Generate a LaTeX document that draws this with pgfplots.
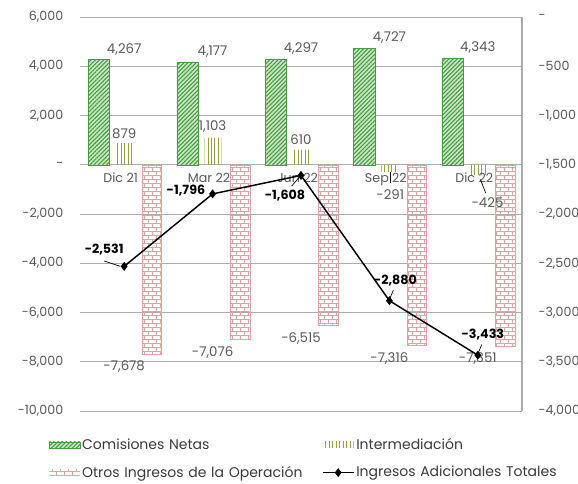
\documentclass[border=0pt]{standalone}
\usepackage{pgfplots}
\pgfplotsset{compat=1.18}
\usepackage{fontspec}
\setmainfont{Poppins}
\usetikzlibrary{patterns,patterns.meta}

\definecolor{txtgray}{HTML}{595959}
\definecolor{legtxt}{HTML}{3A3A3A}
\definecolor{gridgray}{HTML}{ABABAB}
\definecolor{comgreen}{HTML}{459C41}
\definecolor{comlight}{HTML}{C9E7C2}
\definecolor{intolive}{HTML}{8FA33A}
\definecolor{otrred}{HTML}{E6A0A0}

% small brick wall used for "Otros Ingresos de la Operacion"
\pgfdeclarepatternformonly{smallbricks}{\pgfqpoint{-0.5pt}{-0.5pt}}{\pgfqpoint{6.5pt}{6.5pt}}{\pgfqpoint{6pt}{6pt}}{%
  \pgfsetlinewidth{0.5pt}%
  \pgfpathmoveto{\pgfqpoint{0pt}{0pt}}\pgfpathlineto{\pgfqpoint{6pt}{0pt}}%
  \pgfpathmoveto{\pgfqpoint{0pt}{3pt}}\pgfpathlineto{\pgfqpoint{6pt}{3pt}}%
  \pgfpathmoveto{\pgfqpoint{0pt}{0pt}}\pgfpathlineto{\pgfqpoint{0pt}{3pt}}%
  \pgfpathmoveto{\pgfqpoint{3pt}{3pt}}\pgfpathlineto{\pgfqpoint{3pt}{6pt}}%
  \pgfusepathqstroke}

% quarterly figures (millones de pesos)
\pgfplotstableread{
x  com   inter  otros
0  4267  879    -7678
1  4177  1103   -7076
2  4297  610    -6515
3  4727  -291   -7316
4  4343  -425   -7351
}\bars
\pgfplotstableread{
x  total
0  -2531
1  -1796
2  -1608
3  -2880
4  -3433
}\totales

\begin{document}
\begin{tikzpicture}[font=\fontsize{9.5}{11.4}\selectfont]
\pgfplotsset{
  common/.style={
    scale only axis, width=331.5pt, height=295.5pt,
    at={(0,0)}, anchor=south west,
    xmin=-0.5, xmax=4.5,
    scaled ticks=false,
    /pgf/number format/assume math mode=true,
    /pgf/number format/1000 sep={,},
    tick label style={text=txtgray, font=\fontsize{9.5}{11.4}\selectfont},
    major tick length=0pt,
  },
  legimg/.style={legend image code/.code={%
    \path[##1, draw=none] (0pt,-2.2pt) rectangle (23pt,2.2pt);}},
  lineimg/.style={legend image code/.code={%
    \draw[##1] (0pt,0pt) -- (23pt,0pt);
    \draw[##1] plot coordinates {(11.5pt,0pt)};}},
}
\begin{axis}[common,
  ymin=-10000, ymax=6000,
  ytick={-10000,-8000,...,6000},
  yticklabels={{-10,000},{-8,000},{-6,000},{-4,000},{-2,000},{-},{2,000},{4,000},{6,000}},
  axis x line=none,
  axis y line*=left,
  y axis line style={draw=none},
  ymajorgrids, grid style={gridgray, line width=0.7pt},
  yticklabel style={xshift=-9pt},
  nodes near coords,
  every node near coord/.append style={text=txtgray, font=\fontsize{10}{12}\selectfont},
  legend columns=2,
  legend cell align=left,
  legend style={draw=none, fill=none,
    at={(-0.0796,-0.057)}, anchor=north west,
    font=\fontsize{10.5}{12.6}\selectfont, text=legtxt,
    nodes={text width=178.5pt, inner sep=1.5pt},
    row sep=8pt,
    /tikz/every even column/.append style={column sep=0pt}},
]
\addplot[ybar, bar width=0.24, bar shift=-0.285, draw=comgreen, line width=0.3pt,
  fill=comlight,
  postaction={pattern={Lines[angle=45,distance=2.2pt,line width=0.8pt]}, pattern color=comgreen},
  legimg]
  table[x=x, y=com] {\bars};
\addlegendentry{Comisiones Netas}
\addplot[ybar, bar width=0.19, bar shift=0.005, draw=none,
  pattern={Lines[angle=90,distance=2.6pt,line width=0.7pt]}, pattern color=intolive,
  nodes near coords={\pgfmathfloatifflags{\pgfplotspointmeta}{-}{}{\pgfmathprintnumber{\pgfplotspointmeta}}},
  legimg]
  table[x=x, y=inter] {\bars};
\addlegendentry{Intermediación}
\addplot[ybar, bar width=0.22, bar shift=0.31, draw=otrred, line width=0.3pt,
  pattern=smallbricks, pattern color=otrred,
  every node near coord/.append style={yshift=-2pt},
  legimg]
  table[x=x, y=otros] {\bars};
\addlegendentry{Otros Ingresos de la Operación}
\addlegendimage{black, line width=1.1pt, mark=diamond*, mark size=2.5pt, lineimg}
\addlegendentry{Ingresos Adicionales Totales}

% category names sit just under the zero line
\begin{scope}[every node/.style={anchor=north, text=txtgray, inner sep=2pt, yshift=-4pt}]
\node at (axis cs:-0.04,0) {Dic 21};
\node at (axis cs:0.96,0) {Mar 22};
\node at (axis cs:1.96,0) {Jun 22};
\node at (axis cs:2.96,0) {Sep 22};
\node at (axis cs:3.96,0) {Dic 22};
\end{scope}

% negative Intermediacion labels with leader lines
\draw[black, line width=0.5pt] (axis cs:3.01,-300) -- (axis cs:3.01,-760);
\node[text=txtgray, font=\fontsize{10}{12}\selectfont] at (axis cs:3.01,-1230) {-291};
\draw[black, line width=0.5pt] (axis cs:4.03,-600) -- (axis cs:4.09,-1150);
\node[text=txtgray, font=\fontsize{10}{12}\selectfont] at (axis cs:4.11,-1530) {-425};
\end{axis}

\begin{axis}[common,
  ymin=-4000, ymax=0,
  ytick={-4000,-3500,...,0},
  yticklabels={{-4,000},{-3,500},{-3,000},{-2,500},{-2,000},{-1,500},{-1,000},{-500},{-}},
  axis x line=none,
  axis y line*=right,
  y axis line style={draw=gridgray, line width=0.9pt},
  yticklabel style={anchor=west, xshift=9pt},
]
\addplot[black, line width=1.1pt, mark=diamond*, mark size=2.5pt]
  table[x=x, y=total] {\totales};

\begin{scope}[every node/.style={font=\bfseries\fontsize{9.5}{11.4}\selectfont, text=black}]
\node at ([xshift=-15pt, yshift=12.5pt]axis cs:0,-2531) {-2,531};
\draw[black, line width=0.5pt] ([xshift=-15pt, yshift=4pt]axis cs:0,-2531) -- ([xshift=-3pt]axis cs:0,-2531);
\node at ([xshift=-20pt, yshift=2.5pt]axis cs:1,-1796) {-1,796};
\node at ([xshift=-12pt, yshift=-15.5pt]axis cs:2,-1608) {-1,608};
\draw[black, line width=0.5pt] ([xshift=-7pt, yshift=-8pt]axis cs:2,-1608) -- ([xshift=-1pt, yshift=-1pt]axis cs:2,-1608);
\node at ([xshift=4.5pt, yshift=15pt]axis cs:3,-2880) {-2,880};
\draw[black, line width=0.5pt] ([xshift=3pt, yshift=8pt]axis cs:3,-2880) -- ([xshift=0.5pt, yshift=2pt]axis cs:3,-2880);
\node at ([xshift=3.8pt, yshift=15.5pt]axis cs:4,-3433) {-3,433};
\draw[black, line width=0.5pt] ([xshift=3pt, yshift=8pt]axis cs:4,-3433) -- ([xshift=0.5pt, yshift=2pt]axis cs:4,-3433);
\end{scope}
\end{axis}

\pgfresetboundingbox
\useasboundingbox (-60pt,-54pt) rectangle (373.5pt,308.25pt);
\end{tikzpicture}
\end{document}
